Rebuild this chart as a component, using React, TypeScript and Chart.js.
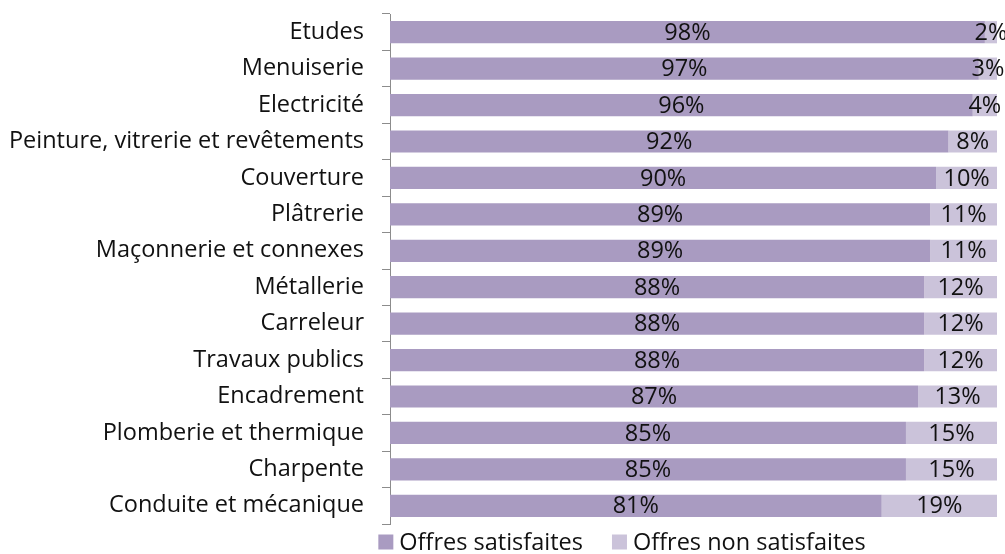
import { useEffect, useRef } from "react";
import { Chart, registerables } from "chart.js";

Chart.register(...registerables);

const categories = [
  "Etudes",
  "Menuiserie",
  "Electricité",
  "Peinture, vitrerie et revêtements",
  "Couverture",
  "Plâtrerie",
  "Maçonnerie et connexes",
  "Métallerie",
  "Carreleur",
  "Travaux publics",
  "Encadrement",
  "Plomberie et thermique",
  "Charpente",
  "Conduite et mécanique",
];
const satisfied = [98, 97, 96, 92, 90, 89, 89, 88, 88, 88, 87, 85, 85, 81];
const unsatisfied = [2, 3, 4, 8, 10, 11, 11, 12, 12, 12, 13, 15, 15, 19];
const seriesNames = ["Offres satisfaites", "Offres non satisfaites"];
const colors = ["#A99BC1", "#CBC3DA"];

const FONT_FAMILY = "'Open Sans'";
const FONT_SIZE = 23.5;
const TEXT_COLOR = "#111111";
const AXIS_COLOR = "#8c8c8c";

const labelPlugin = {
  id: "barLabels",
  afterDatasetsDraw(chart: any) {
    const ctx = chart.ctx;
    ctx.save();
    ctx.font = `${FONT_SIZE}px ${FONT_FAMILY}`;
    ctx.fillStyle = TEXT_COLOR;
    ctx.textAlign = "center";
    ctx.textBaseline = "middle";
    chart.data.datasets.forEach((ds: any, i: number) => {
      const meta = chart.getDatasetMeta(i);
      meta.data.forEach((bar: any, j: number) => {
        const p = bar.getProps(["x", "base", "y"], true);
        ctx.fillText(`${ds.data[j]}%`, (p.x + p.base) / 2, p.y + 1);
      });
    });
    ctx.restore();
  },
};

const legendPlugin = {
  id: "customLegend",
  afterDraw(chart: any) {
    const ctx = chart.ctx;
    ctx.save();
    ctx.font = `${FONT_SIZE}px ${FONT_FAMILY}`;
    ctx.textBaseline = "middle";
    ctx.textAlign = "left";
    const box = 15;
    const gapText = 6;
    const gapItem = 29;
    const items = chart.data.datasets.map((ds: any) => ({
      label: ds.label,
      color: ds.backgroundColor,
      w: ctx.measureText(ds.label).width,
    }));
    const total =
      items.reduce((s: number, it: any) => s + box + gapText + it.w, 0) +
      gapItem * (items.length - 1);
    let x = 622 - total / 2;
    const yc = 542;
    items.forEach((it: any) => {
      ctx.fillStyle = it.color;
      ctx.fillRect(x, yc - box / 2, box, box);
      x += box + gapText;
      ctx.fillStyle = TEXT_COLOR;
      ctx.fillText(it.label, x, yc + 1);
      x += it.w + gapItem;
    });
    ctx.restore();
  },
};

export default function App() {
  const ref = useRef<HTMLCanvasElement>(null);
  useEffect(() => {
    document.body.style.margin = "0";
    const chart = new Chart(ref.current!, {
      type: "bar",
      data: {
        labels: categories,
        datasets: [
          {
            label: seriesNames[0],
            data: satisfied,
            backgroundColor: colors[0],
            barPercentage: 0.61,
            categoryPercentage: 1,
          },
          {
            label: seriesNames[1],
            data: unsatisfied,
            backgroundColor: colors[1],
            barPercentage: 0.61,
            categoryPercentage: 1,
          },
        ],
      },
      options: {
        indexAxis: "y",
        responsive: false,
        animation: false,
        layout: { padding: { top: 14, right: 8, bottom: 30, left: 0 } },
        scales: {
          x: { stacked: true, min: 0, max: 100, display: false },
          y: {
            stacked: true,
            grid: {
              offset: true,
              drawOnChartArea: false,
              tickLength: 8,
              color: AXIS_COLOR,
              lineWidth: 1,
            },
            border: { color: AXIS_COLOR, width: 1 },
            ticks: {
              font: { family: FONT_FAMILY, size: FONT_SIZE },
              color: TEXT_COLOR,
              padding: 18,
            },
            afterFit: (s: any) => {
              s.width = 390;
              s.paddingTop = 0;
              s.paddingBottom = 0;
            },
          },
        },
        plugins: {
          legend: { display: false },
          tooltip: { enabled: false },
        },
      },
      plugins: [labelPlugin, legendPlugin],
    } as any);
    return () => chart.destroy();
  }, []);
  return (
    <canvas
      ref={ref}
      width={1005}
      height={554}
      style={{ display: "block", width: 1005, height: 554 }}
    />
  );
}
